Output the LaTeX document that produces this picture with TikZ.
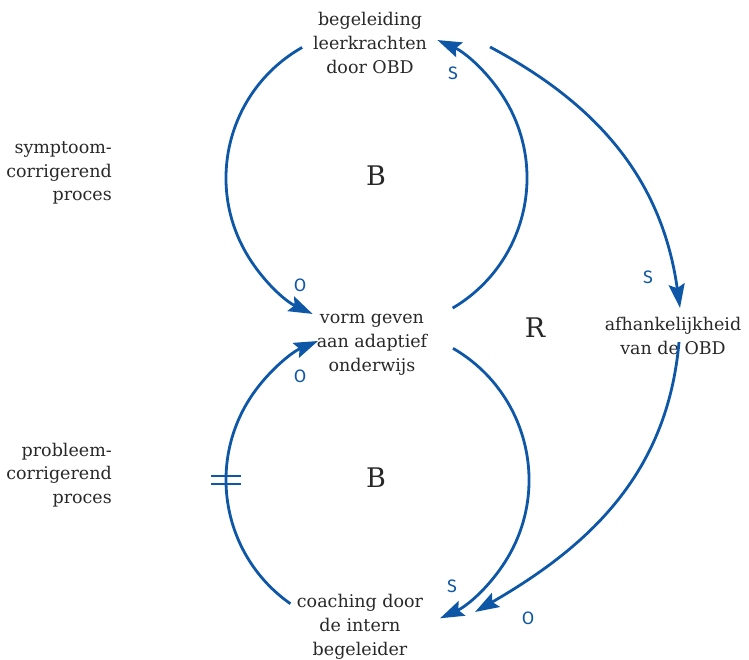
\documentclass[tikz,border=0pt]{standalone}
\usepackage{fontspec}
\setmainfont{DejaVu Serif}
\setsansfont{Fira Sans}
\usetikzlibrary{arrows.meta,calc}
\definecolor{loopblue}{RGB}{14,86,166}
\definecolor{ink}{RGB}{40,40,40}
\begin{document}
\begin{tikzpicture}[x=1pt,y=1pt,
  var/.style={align=center,text=ink,font=\fontsize{17.5}{24}\selectfont,inner sep=0pt},
  side/.style={align=right,anchor=east,text=ink,font=\fontsize{17.5}{23.5}\selectfont,inner sep=0pt},
  looplbl/.style={text=ink,font=\fontsize{27}{28}\selectfont,inner sep=0pt},
  sign/.style={text=loopblue,font=\sffamily\fontsize{18}{20}\selectfont,inner sep=0pt},
  link/.style={draw=loopblue,line width=2.8pt,-{Stealth[length=24pt,width=16pt,inset=4pt]}},
  plain/.style={draw=loopblue,line width=2.8pt}]
\useasboundingbox (0,0) rectangle (749,660);

% variables
\node[var] (obd) at (370,617) {begeleiding\\leerkrachten\\door OBD};
\node[var] (aow) at (372,315) {vorm geven\\aan adaptief\\onderwijs};
\node[var] (ib)  at (360,33)  {coaching door\\de intern\\begeleider};
\node[var] (dep) at (673,324) {afhankelijkheid\\van de OBD};

% process names
\node[side] (symp) at (112,487) {symptoom-\\corrigerend\\proces};
\node[side] (prob) at (112,185) {probleem-\\corrigerend\\proces};

% loop labels
\node[looplbl] (b1) at (376,484) {B};
\node[looplbl] (b2) at (376,182) {B};
\node[looplbl] (r1) at (535,332) {R};

% circle centres of the two balancing loops
\coordinate (c1) at (376,482);
\coordinate (c2) at (377,180);

% upper balancing loop
\coordinate (t1) at ($(c1)+(119.5:150)$);
\draw[link] (t1) arc[start angle=119.5,end angle=245,radius=150];
\coordinate (t2) at ($(c1)+(-59.5:151)$);
\draw[link] (t2) arc[start angle=-59.5,end angle=66,radius=151];

% lower balancing loop
\coordinate (u1) at ($(c2)+(235:151)$);
\draw[link] (u1) arc[start angle=235,end angle=113,radius=151];
\coordinate (u2) at ($(c2)+(60:152)$);
\draw[link] (u2) arc[start angle=60,end angle=-65.5,radius=152];

% delay mark
\coordinate (d) at (226,180);
\draw[plain] ($(d)+(-15,4)$) -- ($(d)+(15,4)$);
\draw[plain] ($(d)+(-15,-4)$) -- ($(d)+(15,-4)$);

% reinforcing path via the dependency
\coordinate (v1) at (490,613);
\coordinate (v2) at (680,352);
\draw[link] (v1) to[out=-28,in=98] (v2);
\coordinate (w1) at (679,318);
\coordinate (w2) at (475,48);
\draw[link] (w1) to[out=-95,in=30] (w2);

% link polarities
\node[sign] (s1) at (453,587) {S};
\node[sign] (o1) at (300,375) {O};
\node[sign] (o2) at (300,284) {O};
\node[sign] (s2) at (648,383) {S};
\node[sign] (s3) at (452,74)  {S};
\node[sign] (o3) at (528,42)  {O};
\end{tikzpicture}
\end{document}
